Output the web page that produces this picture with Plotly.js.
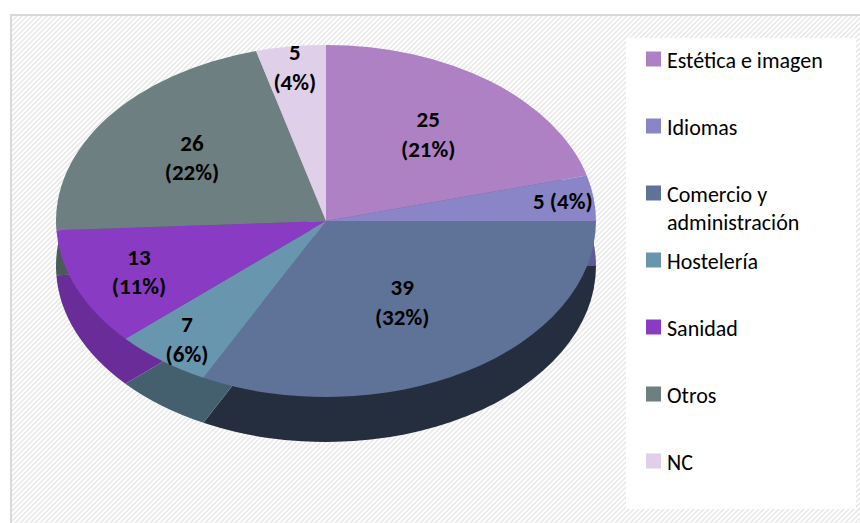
<!DOCTYPE html>
<html>
<head>
<meta charset="utf-8">
<script src="https://cdn.plot.ly/plotly-3.0.1.min.js"></script>
<style>
html, body { margin: 0; padding: 0; background: #ffffff; }
#frame {
  position: absolute; left: 10px; top: 14px; width: 850px; height: 520px;
  border-top: 2px solid #d9d9d9; border-left: 2px solid #d9d9d9;
  background-color: #ffffff;
  background-image: url("data:image/svg+xml,%3Csvg xmlns='http://www.w3.org/2000/svg' width='5' height='5'%3E%3Cpath d='M0,5 L5,0 M-1,1 L1,-1 M4,6 L6,4' stroke='%23e9e9e9' stroke-width='1.6'/%3E%3C/svg%3E");
  background-size: 5px 5px;
}
#legendbox { position: absolute; left: 626px; top: 38px; width: 230px; height: 471px; background: #ffffff; }
#chart { position: absolute; left: 0; top: 0; width: 860px; height: 523px; }
</style>
</head>
<body>
<div id="frame"></div>
<div id="legendbox"></div>
<div id="chart"></div>
<script>
// ---- data ----
const categories = ['Estética e imagen', 'Idiomas', 'Comercio y administración', 'Hostelería', 'Sanidad', 'Otros', 'NC'];
const legendLabels = ['Estética e imagen', 'Idiomas', 'Comercio y<br>administración', 'Hostelería', 'Sanidad', 'Otros', 'NC'];
const values = [25, 5, 39, 7, 13, 26, 5];
const percentLabels = ['21%', '4%', '32%', '6%', '11%', '22%', '4%'];
const topColors = ['#AE80C4', '#8985C6', '#5F7399', '#6796AE', '#8A3BC4', '#6D7F80', '#E0CFE8'];
const sideColors = ['#7E5A90', '#5F5C95', '#252E3E', '#44606F', '#6A2C98', '#4C5A5B', '#A99AB0'];

// ---- styling ----
const FONT = 'Carlito, Calibri, Lato, sans-serif';
const CX = 326, CY = 221, A = 270, B = 176, DEPTH = 45;
const LEG_TEXT_X = 667, LEG_Y0 = 59, LEG_STEP = 67, SYM_GAP = 13.5, SYM_SCALE = 1.25;

const templates = values.map(function (v, i) {
  return i === 1 ? '%{value} (%{text})' : '%{value}<br>(%{text})';
});

const basePie = {
  type: 'pie',
  values: values,
  labels: legendLabels,
  sort: false,
  direction: 'clockwise',
  rotation: 0,
  domain: { x: [0, 0.73], y: [0, 1] },
  hoverinfo: 'skip'
};

const sidePie = Object.assign({}, basePie, {
  marker: { colors: sideColors, line: { width: 0 } },
  textinfo: 'none',
  showlegend: false
});

const topPie = Object.assign({}, basePie, {
  text: percentLabels,
  texttemplate: templates,
  textposition: 'inside',
  insidetextorientation: 'horizontal',
  insidetextfont: { family: FONT, size: 23, color: '#000000', weight: 'bold' },
  marker: { colors: topColors, line: { width: 0 } },
  showlegend: true
});

const layout = {
  width: 860, height: 523,
  margin: { l: 0, r: 0, t: 0, b: 0 },
  paper_bgcolor: 'rgba(0,0,0,0)',
  plot_bgcolor: 'rgba(0,0,0,0)',
  font: { family: FONT, size: 22, color: '#000000' },
  uniformtext: { mode: 'show', minsize: 23 },
  legend: {
    x: 0.73, xanchor: 'left', y: 0.97, yanchor: 'top',
    bgcolor: 'rgba(0,0,0,0)', borderwidth: 0,
    font: { family: FONT, size: 22, color: '#000000' },
    valign: 'top', traceorder: 'normal'
  }
};

function parseTranslate(s) {
  const m = /translate\(\s*([-\d.e]+)[ ,]*([-\d.e]+)?\s*\)/.exec(s || '');
  return m ? [parseFloat(m[1]), parseFloat(m[2] || 0)] : [0, 0];
}

Plotly.newPlot('chart', [sidePie, topPie], layout, { staticPlot: true }).then(function (gd) {
  const svg = gd.querySelector('.main-svg');
  const sr = svg.getBoundingClientRect();

  // elliptical (tilted) projection of the pie drawn by Plotly
  const traces = gd.querySelectorAll('.pielayer .trace');
  traces.forEach(function (tr, i) {
    const cd0 = gd.calcdata[i][0];
    const cx = cd0.cx, cy = cd0.cy, r = cd0.r;
    const sx = A / r, sy = B / r;
    const ty = CY + (i === 0 ? DEPTH : 0);
    const m = 'matrix(' + sx + ',0,0,' + sy + ',' + (CX - sx * cx) + ',' + (ty - sy * cy) + ')';
    tr.querySelectorAll('path.surface').forEach(function (p) { p.setAttribute('transform', m); });
    let groups = tr.querySelectorAll('g.slicetext');
    if (!groups.length) groups = tr.querySelectorAll('text.slicetext');
    groups.forEach(function (g) {
      const b = g.getBoundingClientRect();
      const x = b.left + b.width / 2 - sr.left, y = b.top + b.height / 2 - sr.top;
      const nx = CX + sx * (x - cx), ny = ty + sy * (y - cy);
      const old = g.getAttribute('transform') || '';
      g.setAttribute('transform', 'translate(' + (nx - x) + ',' + (ny - y) + ') ' + old);
    });
  });

  // legend spacing like the original
  gd.querySelectorAll('.legend [clip-path]').forEach(function (el) { el.removeAttribute('clip-path'); });
  const items = gd.querySelectorAll('.legend .traces');
  items.forEach(function (it, i) {
    const sym = it.querySelector('path.legendpie') || it.querySelector('.legendpoints path');
    const txt = it.querySelector('text.legendtext');
    if (sym && txt) {
      const st = parseTranslate(sym.getAttribute('transform'));
      const tb0 = txt.getBoundingClientRect();
      const sb0 = sym.getBoundingClientRect();
      const scx = sb0.left + sb0.width / 2;
      const want = tb0.left - SYM_GAP;
      sym.setAttribute('transform', 'translate(' + (st[0] + want - scx) + ',' + st[1] + ') scale(' + SYM_SCALE + ')');
    }
    const t = parseTranslate(it.getAttribute('transform'));
    const sb = (sym || it).getBoundingClientRect();
    const tb = txt ? txt.getBoundingClientRect() : sb;
    const dy = (LEG_Y0 + LEG_STEP * i) - (sb.top + sb.height / 2 - sr.top);
    const dx = LEG_TEXT_X - (tb.left - sr.left);
    it.setAttribute('transform', 'translate(' + (t[0] + dx) + ',' + (t[1] + dy) + ')');
  });
});
</script>
</body>
</html>
